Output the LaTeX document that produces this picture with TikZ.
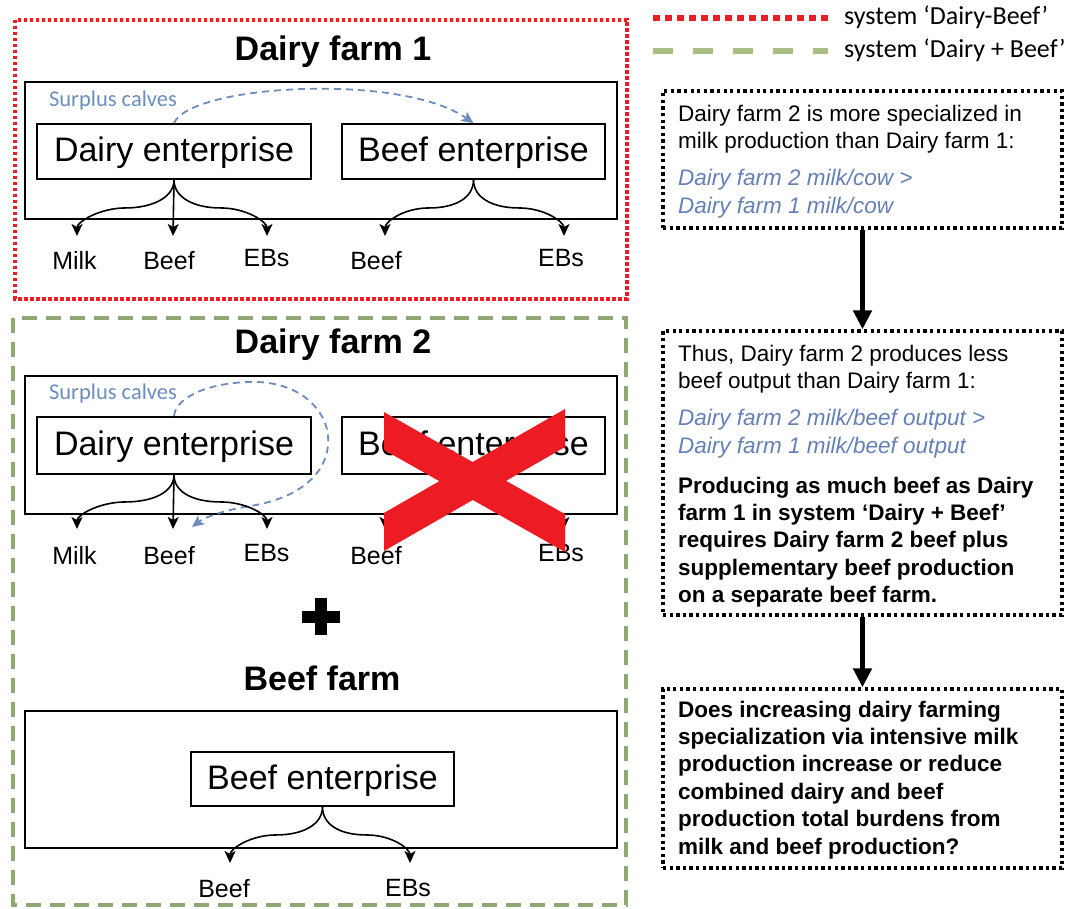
\documentclass[tikz,border=0pt]{standalone}
\usepackage{fontspec}
\setmainfont{Liberation Sans}
\newfontfamily\calib{Carlito}
\usetikzlibrary{arrows.meta,calc}
\definecolor{dfred}{RGB}{237,28,36}
\definecolor{dfgreen}{RGB}{143,168,118}
\definecolor{lggreen}{RGB}{168,190,130}
\definecolor{dfblue}{RGB}{108,140,190}
\definecolor{txblue}{RGB}{100,128,180}
\begin{document}
\begin{tikzpicture}[x=1pt,y=-1pt,
  frame/.style={draw=black, line width=2pt},
  entbox/.style={draw=black, line width=1.8pt, inner sep=0pt, font=\fontsize{34}{40}\selectfont, text height=25pt, text depth=4pt},
  outlbl/.style={font=\fontsize{25}{30}\selectfont, inner sep=0pt, anchor=base},
  farmtitle/.style={font=\bfseries\fontsize{34}{40}\selectfont, inner sep=0pt, anchor=base},
  flow/.style={line width=1.6pt, -{Stealth[length=12pt,width=11pt,inset=3pt]}},
  calves/.style={draw=dfblue, line width=1.8pt, dash pattern=on 7pt off 5pt, -{Stealth[length=12pt,width=11pt,inset=3pt]}},
  calvlbl/.style={text=dfblue, font=\calib\fontsize{22.5}{27}\selectfont, inner sep=0pt},
  notebox/.style={draw=black, line width=3.3pt, dash pattern=on 3.3pt off 3.3pt, inner sep=0pt},
  notetxt/.style={font=\fontsize{22.5}{27.2}\selectfont, align=left, anchor=north west, inner sep=0pt},
  bluetxt/.style={notetxt, text=txblue, font=\itshape\fontsize{22.5}{28}\selectfont},
  boldtxt/.style={notetxt, font=\bfseries\fontsize{22.5}{27.4}\selectfont},
  bignarrow/.style={line width=5pt, -{Triangle[length=19pt,width=18pt]}},
  legtxt/.style={font=\calib\fontsize{26}{30}\selectfont, inner sep=0pt, anchor=base west},
]
\useasboundingbox (0,0) rectangle (1072,909);

% ---------- Legend ----------
\coordinate (lgr1) at (653,18); \coordinate (lgr2) at (828,18);
\coordinate (lgg1) at (653,51); \coordinate (lgg2) at (828,51);
\draw[dfred, line width=6pt, dash pattern=on 7pt off 5pt] (lgr1) -- (lgr2);
\draw[lggreen, line width=5.5pt, dash pattern=on 20pt off 20pt] (lgg1) -- (lgg2);
\node[legtxt] (lg1) at (844,25) {system ‘Dairy-Beef’};
\node[legtxt] (lg2) at (844,58) {system ‘Dairy + Beef’};

% ---------- System frames ----------
\draw[dfred, line width=3.5pt, dash pattern=on 3.5pt off 2.5pt] (15,20) rectangle (627,299);
\draw[dfgreen, line width=3.5pt, dash pattern=on 15pt off 9pt] (13,318) rectangle (626,905);

% ---------- Dairy farm 1 ----------
\node[farmtitle] (df1) at (333,61) {Dairy farm 1};
\draw[frame] (25,82) rectangle (617,219);
\node[entbox, minimum width=274pt, minimum height=55pt] (de1) at (174,151.5) {Dairy enterprise};
\node[entbox, minimum width=263pt, minimum height=55pt] (be1) at (473.5,151.5) {Beef enterprise};
\node[calvlbl] (sc1) at (113,101) {Surplus calves};
\draw[calves] (de1.north) .. controls (190,85) and (400,72) .. (be1.north);
\coordinate (t1m) at (77,236); \coordinate (t1b) at (173,236); \coordinate (t1e) at (267,236);
\coordinate (t1b2) at (385,236); \coordinate (t1e2) at (564,236);
\draw[flow] (de1.south) .. controls +(0,18) and +(26,0) .. ($(de1.south)!0.5!(t1m)$) .. controls +(-26,0) and +(0,-14) .. (t1m);
\draw[flow] (de1.south) -- (t1b);
\draw[flow] (de1.south) .. controls +(0,18) and +(-26,0) .. ($(de1.south)!0.5!(t1e)$) .. controls +(26,0) and +(0,-14) .. (t1e);
\draw[flow] (be1.south) .. controls +(0,18) and +(26,0) .. ($(be1.south)!0.5!(t1b2)$) .. controls +(-26,0) and +(0,-14) .. (t1b2);
\draw[flow] (be1.south) .. controls +(0,18) and +(-26,0) .. ($(be1.south)!0.5!(t1e2)$) .. controls +(26,0) and +(0,-14) .. (t1e2);
\node[outlbl] (m1) at (74.5,270) {Milk};
\node[outlbl] (b1) at (169,270) {Beef};
\node[outlbl] (e1) at (266.5,267) {EBs};
\node[outlbl] (b1b) at (376,270) {Beef};
\node[outlbl] (e1b) at (561,267) {EBs};

% ---------- Dairy farm 2 ----------
\node[farmtitle] (df2) at (333,354) {Dairy farm 2};
\draw[frame] (25,376) rectangle (617,514);
\node[entbox, minimum width=274pt, minimum height=57pt] (de2) at (174,445.5) {Dairy enterprise};
\node[entbox, minimum width=263pt, minimum height=57pt] (be2) at (473.5,445.5) {Beef enterprise};
\node[calvlbl] (sc2) at (113,394) {Surplus calves};
\coordinate (sc2end) at (192,527);
\draw[calves] (de2.north) .. controls (176,395) and (215,381) .. (258,382) .. controls (305,384) and (331,415) .. (328,445) .. controls (325,480) and (290,500) .. (250,506) .. controls (225,510) and (205,517) .. (sc2end);
\coordinate (t2m) at (77,529); \coordinate (t2b) at (173,529); \coordinate (t2e) at (267,529);
\coordinate (t2b2) at (385,529); \coordinate (t2e2) at (564,529);
\draw[flow] (de2.south) .. controls +(0,18) and +(26,0) .. ($(de2.south)!0.5!(t2m)$) .. controls +(-26,0) and +(0,-14) .. (t2m);
\draw[flow] (de2.south) -- (t2b);
\draw[flow] (de2.south) .. controls +(0,18) and +(-26,0) .. ($(de2.south)!0.5!(t2e)$) .. controls +(26,0) and +(0,-14) .. (t2e);
\draw[flow] (be2.south) .. controls +(0,18) and +(26,0) .. ($(be2.south)!0.5!(t2b2)$) .. controls +(-26,0) and +(0,-14) .. (t2b2);
\draw[flow] (be2.south) .. controls +(0,18) and +(-26,0) .. ($(be2.south)!0.5!(t2e2)$) .. controls +(26,0) and +(0,-14) .. (t2e2);
\node[outlbl] (m2) at (74.5,564) {Milk};
\node[outlbl] (b2) at (169,564) {Beef};
\node[outlbl] (e2) at (266.5,561) {EBs};
\node[outlbl] (b2b) at (376,564) {Beef};
\node[outlbl] (e2b) at (561,561) {EBs};
% red cross
\begin{scope}
  \clip[rounded corners=4pt] (384,400) rectangle (565,560);
  \draw[dfred, line width=33pt] (370,423.1) -- (580,541.5);
  \draw[dfred, line width=33pt] (580,419.4) -- (370,540);
\end{scope}

% ---------- plus ----------
\fill[black] (302,611) rectangle (340,623);
\fill[black] (315,598) rectangle (327,635);

% ---------- Beef farm ----------
\node[farmtitle] (bf) at (322,690) {Beef farm};
\draw[frame] (25,711) rectangle (617,848);
\node[entbox, minimum width=263pt, minimum height=54pt] (bfe) at (322.5,779) {Beef enterprise};
\coordinate (t3b) at (230,863); \coordinate (t3e) at (410,863);
\draw[flow] (bfe.south) .. controls +(0,18) and +(26,0) .. ($(bfe.south)!0.5!(t3b)$) .. controls +(-26,0) and +(0,-14) .. (t3b);
\draw[flow] (bfe.south) .. controls +(0,18) and +(-26,0) .. ($(bfe.south)!0.5!(t3e)$) .. controls +(26,0) and +(0,-14) .. (t3e);
\node[outlbl] (b3) at (224,897) {Beef};
\node[outlbl] (e3) at (408,896) {EBs};

% ---------- Right-hand notes ----------
\node[notebox, minimum width=399pt, minimum height=137pt] (nA) at (862.5,159.5) {};
\node[notebox, minimum width=399pt, minimum height=284pt] (nB) at (862.5,473) {};
\node[notebox, minimum width=399pt, minimum height=179pt] (nC) at (862.5,778.5) {};
\draw[bignarrow] (nA.south) -- (nB.north);
\draw[bignarrow] (nB.south) -- (nC.north);

\node[notetxt] (tA1) at (678,104.6) {Dairy farm 2 is more specialized in\\milk production than Dairy farm 1:};
\node[bluetxt] (tA2) at (678,168.6) {Dairy farm 2 milk/cow >\\Dairy farm 1 milk/cow};
\node[notetxt] (tB1) at (678,344.6) {Thus, Dairy farm 2 produces less\\beef output than Dairy farm 1:};
\node[bluetxt] (tB2) at (678,408.6) {Dairy farm 2 milk/beef output >\\Dairy farm 1 milk/beef output};
\node[boldtxt] (tB3) at (678,476.6) {Producing as much beef as Dairy\\farm 1 in system ‘Dairy + Beef’\\requires Dairy farm 2 beef plus\\supplementary beef production\\on a separate beef farm.};
\node[boldtxt] (tC) at (678,700.6) {Does increasing dairy farming\\specialization via intensive milk\\production increase or reduce\\combined dairy and beef\\production total burdens from\\milk and beef production?};
\end{tikzpicture}
\end{document}
